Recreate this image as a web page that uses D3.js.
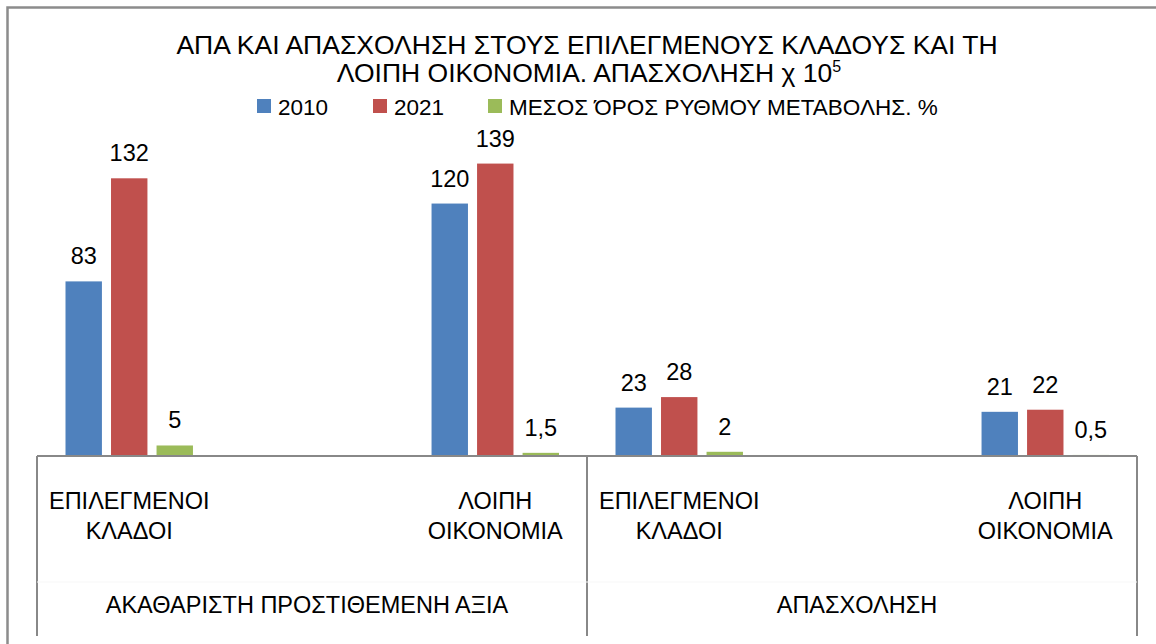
<!DOCTYPE html>
<html>
<head>
<meta charset="utf-8">
<script src="https://cdn.jsdelivr.net/npm/d3@7"></script>
<style>
  body { margin: 0; background: #fff; }
  svg { display: block; font-family: "Liberation Sans", Arial, sans-serif; }
</style>
</head>
<body>
<script>
// data
const groups = ['ΑΚΑΘΑΡΙΣΤΗ ΠΡΟΣΤΙΘΕΜΕΝΗ ΑΞΙΑ', 'ΑΠΑΣΧΟΛΗΣΗ'];
const categories = ['ΑΠΑ-ΕΠΙΛ', 'ΑΠΑ-ΛΟΙΠΗ', 'ΑΠΑΣΧ-ΕΠΙΛ', 'ΑΠΑΣΧ-ΛΟΙΠΗ'];
const categoryLines = [
  ['ΕΠΙΛΕΓΜΕΝΟΙ', 'ΚΛΑΔΟΙ'],
  ['ΛΟΙΠΗ', 'ΟΙΚΟΝΟΜΙΑ'],
  ['ΕΠΙΛΕΓΜΕΝΟΙ', 'ΚΛΑΔΟΙ'],
  ['ΛΟΙΠΗ', 'ΟΙΚΟΝΟΜΙΑ']
];
const seriesNames = ['2010', '2021', 'ΜΕΣΟΣ ΌΡΟΣ ΡΥΘΜΟΥ ΜΕΤΑΒΟΛΗΣ. %'];
const values2010 = [83, 120, 23, 21];
const values2021 = [132, 139, 28, 22];
const valuesRate = [5, 1.5, 2, 0.5];

const seriesValues = [values2010, values2021, valuesRate];
const colors = ['#4f81bd', '#c0504d', '#9bbb59'];

const width = 1156;
const height = 644;
const baseY = 456;
const axisLeft = 37, axisRight = 1137, axisBottom = 636;
// bars of the first sub-category sit in the left slots, the second in the right ones
const slotStart = [0, 2, 0, 2];

const svg = d3.select('body').append('svg')
  .attr('width', width)
  .attr('height', height);

svg.append('rect').attr('width', width).attr('height', height).attr('fill', '#fff');

// outer chart frame (right/bottom edges are off the picture)
svg.append('path')
  .attr('d', `M7.5,${height} V7.5 H${width}`)
  .attr('fill', 'none')
  .attr('stroke', '#8c8c8c')
  .attr('stroke-width', 2.5);

const x0 = d3.scaleBand().domain(categories).range([axisLeft, axisRight]);
const slot = d3.scaleBand().domain(d3.range(5)).range([28.5, 247]).paddingInner(0.2);
const y = d3.scaleLinear().domain([0, 160]).range([baseY, 119.4]);

const fmt = d3.formatLocale({ decimal: ',', thousands: '.', grouping: [3], currency: ['', '€'] }).format('~r');

const bars = [];
categories.forEach((c, ci) => {
  seriesValues.forEach((vals, si) => {
    bars.push({ c, ci, si, v: vals[ci] });
  });
});
const barX = d => x0(d.c) + slot(slotStart[d.ci] + d.si);

svg.append('g').selectAll('rect')
  .data(bars)
  .enter().append('rect')
    .attr('x', barX)
    .attr('y', d => y(d.v))
    .attr('width', slot.bandwidth())
    .attr('height', d => baseY - y(d.v))
    .attr('fill', d => colors[d.si]);

svg.append('g').selectAll('text')
  .data(bars)
  .enter().append('text')
    .attr('x', d => barX(d) + slot.bandwidth() / 2)
    .attr('y', d => y(d.v) - 17)
    .attr('text-anchor', 'middle')
    .attr('font-size', 23.5)
    .attr('fill', '#000')
    .text(d => fmt(d.v));

// category axis
const axisColor = '#888';
const ax = svg.append('g').attr('stroke', axisColor).attr('stroke-width', 2);
ax.append('line').attr('x1', axisLeft).attr('x2', axisRight).attr('y1', baseY).attr('y2', baseY);
[axisLeft, x0(categories[2]), axisRight].forEach(xv => {
  ax.append('line').attr('x1', xv).attr('x2', xv).attr('y1', baseY).attr('y2', axisBottom);
});
svg.append('line')
  .attr('x1', axisLeft).attr('x2', axisRight).attr('y1', 582).attr('y2', 582)
  .attr('stroke', '#f7f7f7').attr('stroke-width', 1);

const groupCenter = ci => x0(categories[ci]) + slot(slotStart[ci]) + (slot(slotStart[ci] + 2) + slot.bandwidth() - slot(slotStart[ci])) / 2;

categories.forEach((c, ci) => {
  const t = svg.append('text')
    .attr('text-anchor', 'middle')
    .attr('font-size', 23.5)
    .attr('fill', '#000');
  categoryLines[ci].forEach((line, li) => {
    t.append('tspan')
      .attr('x', groupCenter(ci))
      .attr('y', 509 + li * 30)
      .text(line);
  });
});

groups.forEach((g, gi) => {
  const left = x0(categories[gi * 2]);
  const right = x0(categories[gi * 2 + 1]) + x0.bandwidth();
  svg.append('text')
    .attr('x', (left + right) / 2 - 5)
    .attr('y', 613)
    .attr('text-anchor', 'middle')
    .attr('font-size', 23.5)
    .attr('fill', '#000')
    .text(g);
});

// title
const title = svg.append('text')
  .attr('text-anchor', 'middle')
  .attr('font-size', 26.5)
  .attr('fill', '#000');
title.append('tspan').attr('x', 587).attr('y', 53.5)
  .text('ΑΠΑ ΚΑΙ ΑΠΑΣΧΟΛΗΣΗ ΣΤΟΥΣ ΕΠΙΛΕΓΜΕΝΟΥΣ ΚΛΑΔΟΥΣ ΚΑΙ ΤΗ');
const l2 = title.append('tspan').attr('x', 589).attr('y', 82);
l2.append('tspan').text('ΛΟΙΠΗ ΟΙΚΟΝΟΜΙΑ. ΑΠΑΣΧΟΛΗΣΗ χ 10');
l2.append('tspan').attr('font-size', 16).attr('dy', -10).text('5');

// legend
const legendX = [257, 373, 488];
const legend = svg.append('g').selectAll('g')
  .data(seriesNames)
  .enter().append('g')
    .attr('transform', (d, i) => `translate(${legendX[i]}, 99)`);
legend.append('rect')
  .attr('width', 14).attr('height', 14)
  .attr('fill', (d, i) => colors[i]);
legend.append('text')
  .attr('x', 21).attr('y', 15.5)
  .attr('font-size', 22.5)
  .attr('fill', '#000')
  .text(d => d);
</script>
</body>
</html>
